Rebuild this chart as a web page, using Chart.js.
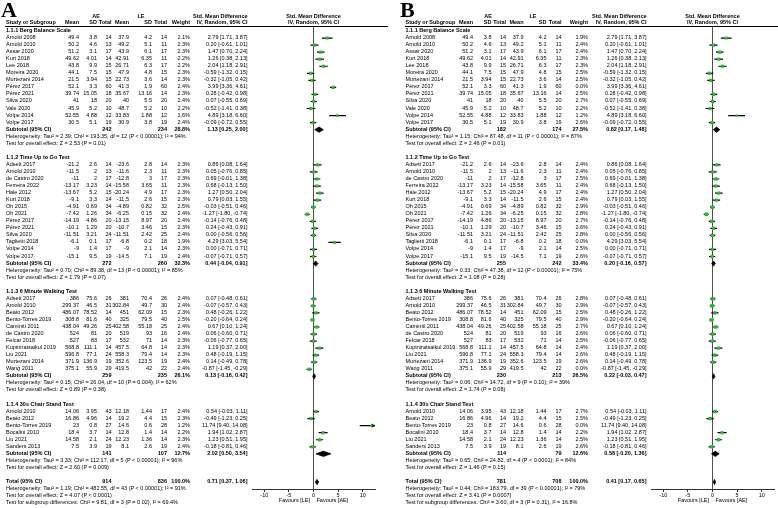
<!DOCTYPE html>
<html>
<head>
<meta charset="utf-8">
<script src="https://cdn.jsdelivr.net/npm/chart.js@4.4.1/dist/chart.umd.min.js"></script>
<style>
  html, body { margin: 0; padding: 0; background: #fff; }
  body { width: 778px; height: 508px; position: relative; overflow: hidden;
         font-family: "Liberation Sans", Arial, sans-serif; color: #000; }
  .panel { position: absolute; top: 0; width: 388px; height: 508px; }
  .panel canvas { position: absolute; left: 0; top: 0; }
  .t { position: absolute; font-size: 5.5px; line-height: 1; white-space: nowrap; }
  .b { font-weight: bold; }
  .letter { position: absolute; left: 1px; top: -1.5px; font: bold 22px "Liberation Serif", serif; line-height: 1; }
  .rule { position: absolute; top: 26px; left: 5px; height: 1px; background: #000; }
</style>
</head>
<body>
<script>
const groupTitles = ["1.1.1 Berg Balance Scale", "1.1.2 Time Up to Go Test", "1.1.3 6 Minute Walking Test", "1.1.4 30s Chair Stand Test"];

const studyNames = [
  ["Arnold 2008", "Arnold 2010", "Assar 2020", "Kurt 2018", "Lee 2018", "Moreira 2020", "Murtezani 2014", "Pérez 2017", "Pérez 2021", "Silva 2020", "Vale 2020", "Volpe 2014", "Volpe 2017"],
  ["Adsett 2017", "Arnold 2010", "de Castro 2020", "Ferreira 2022", "Hale 2012", "Kurt 2018", "Oh 2015", "Oh 2021", "Pérez 2017", "Pérez 2021", "Silva 2020", "Taglietti 2018", "Volpe 2014", "Volpe 2017"],
  ["Adsett 2017", "Arnold 2010", "Beato 2012", "Bento-Torres 2019", "Caminiti 2011", "de Castro 2020", "Felcar 2018", "Kuptniratsaikul 2019", "Liu 2021", "Murtezani 2014", "Wang 2011"],
  ["Arnold 2010", "Beato 2012", "Bento-Torres 2019", "Bocalini 2010", "Liu 2021", "Sanders 2013"]
];

const aeMean = [
  [49.4, 50.2, 51.2, 49.62, 43.8, 44.1, 21.5, 52.1, 39.74, 41, 45.9, 52.55, 30.5],
  [-21.2, -11.5, -11, -13.17, -13.67, -9.1, -4.91, -7.42, -14.19, -10.1, -11.51, -6.1, -9, -15.1],
  [386, 299.37, 486.07, 308.8, 438.04, 524, 527, 568.8, 596.8, 371.9, 375.1],
  [14.06, 16.86, 23, 18.4, 14.58, 7.5]
];
const aeSd = [
  [3.8, 4.6, 3.1, 4.01, 9.9, 7.5, 3.94, 3.3, 15.05, 18, 5.2, 4.88, 5.1],
  [2.6, 2, 2, 3.23, 5.2, 3.3, 0.69, 1.26, 4.86, 1.29, 3.21, 0.1, 1.4, 9.5],
  [75.6, 46.5, 78.52, 81.6, 49.26, 81, 83, 111.1, 77.1, 136.9, 55.9],
  [3.95, 4.96, 0.8, 3.7, 2.1, 3.9]
];
const aeN = [
  [14, 13, 17, 14, 15, 15, 15, 60, 18, 20, 10, 12, 19],
  [14, 13, 17, 14, 15, 14, 34, 34, 20, 20, 24, 17, 17, 19],
  [26, 31, 14, 40, 25, 20, 17, 14, 24, 19, 29],
  [43, 14, 27, 14, 24, 19]
];
const leMean = [
  [37.9, 49.2, 43.9, 42.91, 26.71, 47.9, 22.73, 41.3, 35.67, 40, 48.7, 33.83, 30.9],
  [-23.6, -11.6, -12.8, -15.58, -20.24, -11.5, -4.89, -6.25, -13.15, -10.7, -11.51, -6.8, -9, -14.5],
  [381, 302.84, 451, 325, 402.58, 519, 532, 457.5, 558.3, 352.6, 419.5],
  [12.18, 19.2, 14.6, 12.8, 12.23, 8.1]
];
const leSd = [
  [4.2, 5.1, 6.1, 6.35, 6.3, 4.8, 3.6, 1.9, 13.16, 5.5, 5.2, 1.88, 3.8],
  [2.8, 2.3, 3, 3.65, 4.9, 2.6, 0.82, 0.15, 8.97, 3.46, 2.42, 0.2, 2.1, 7.1],
  [70.4, 49.7, 62.09, 79.5, 55.18, 93, 71, 64.8, 79.4, 123.5, 42],
  [1.44, 4.4, 0.6, 1.4, 1.36, 2.6]
];
const leN = [
  [14, 11, 17, 11, 17, 15, 14, 60, 14, 20, 10, 12, 19],
  [14, 11, 17, 11, 17, 15, 32, 32, 20, 15, 25, 18, 14, 19],
  [26, 30, 15, 40, 25, 16, 14, 14, 14, 19, 22],
  [17, 15, 28, 14, 14, 19]
];

const smd = [
  [2.79, 0.20, 1.47, 1.26, 2.04, -0.59, -0.32, 3.99, 0.28, 0.07, -0.52, 4.89, -0.09],
  [0.86, 0.05, 0.69, 0.68, 1.27, 0.79, -0.03, -1.27, -0.14, 0.24, 0.00, 4.29, 0.00, -0.07],
  [0.07, -0.07, 0.48, -0.20, 0.67, 0.06, -0.06, 1.19, 0.48, 0.14, -0.87],
  [0.54, -0.49, 11.74, 1.94, 1.23, -0.18]
];
const ciLow = [
  [1.71, -0.61, 0.70, 0.38, 1.18, -1.32, -1.05, 3.36, -0.42, -0.55, -1.41, 3.18, -0.72],
  [0.08, -0.76, -0.01, -0.13, 0.50, 0.03, -0.51, -1.80, -0.76, -0.43, -0.56, 3.03, -0.71, -0.71],
  [-0.48, -0.57, -0.26, -0.64, 0.10, -0.60, -0.77, 0.37, -0.19, -0.49, -1.45],
  [-0.03, -1.23, 9.40, 1.02, 0.51, -0.81]
];
const ciHigh = [
  [3.87, 1.01, 2.24, 2.13, 2.91, 0.15, 0.42, 4.61, 0.98, 0.69, 0.38, 6.60, 0.55],
  [1.64, 0.85, 1.38, 1.50, 2.04, 1.55, 0.46, -0.74, 0.48, 0.91, 0.56, 5.54, 0.71, 0.57],
  [0.61, 0.43, 1.22, 0.24, 1.24, 0.71, 0.65, 2.00, 1.15, 0.78, -0.29],
  [1.11, 0.25, 14.08, 2.87, 1.95, 0.46]
];

// study weights (%) in each analysis; 0.0 = study left out in B
const weightA = [
  [2.1, 2.3, 2.3, 2.2, 2.2, 2.3, 2.3, 2.4, 2.3, 2.4, 2.2, 1.6, 2.4],
  [2.3, 2.3, 2.3, 2.3, 2.3, 2.3, 2.5, 2.4, 2.4, 2.3, 2.4, 1.9, 2.3, 2.4],
  [2.4, 2.4, 2.3, 2.5, 2.4, 2.4, 2.3, 2.3, 2.3, 2.4, 2.4],
  [2.4, 2.3, 1.2, 2.2, 2.3, 2.4]
];
const weightB = [
  [1.9, 2.4, 2.4, 2.3, 2.3, 2.5, 2.5, 0.0, 2.5, 2.7, 2.2, 1.2, 2.6],
  [2.4, 2.4, 2.5, 2.4, 2.4, 2.4, 2.9, 2.8, 2.7, 2.6, 2.8, 0.0, 2.5, 2.6],
  [2.8, 2.9, 2.5, 2.9, 2.7, 2.6, 2.5, 2.4, 2.6, 2.6, 0.0],
  [2.7, 2.5, 0.0, 2.2, 2.5, 2.6]
];

// [AE total, LE total, weight, SMD, lower, upper]
const subtotalA = [[242, 234, 28.8, 1.13, 0.25, 2.00], [272, 260, 32.3, 0.44, -0.04, 0.91], [259, 235, 26.1, 0.13, -0.16, 0.42], [141, 107, 12.7, 2.02, 0.50, 3.54]];
const subtotalB = [[182, 174, 27.5, 0.82, 0.17, 1.48], [255, 242, 33.4, 0.20, -0.16, 0.57], [230, 213, 26.5, 0.22, -0.03, 0.47], [114, 79, 12.6, 0.58, -0.20, 1.36]];
const totalA = [914, 836, 100.0, 0.71, 0.37, 1.06];
const totalB = [781, 708, 100.0, 0.41, 0.17, 0.65];

const hetA = [
  "Heterogeneity: Tau² = 2.39; Chi² = 193.35, df = 12 (P < 0.00001); I² = 94%",
  "Heterogeneity: Tau² = 0.70; Chi² = 89.38, df = 13 (P < 0.00001); I² = 85%",
  "Heterogeneity: Tau² = 0.15; Chi² = 26.04, df = 10 (P = 0.004); I² = 62%",
  "Heterogeneity: Tau² = 3.33; Chi² = 112.17, df = 5 (P < 0.00001); I² = 96%"
];
const testA = [
  "Test for overall effect: Z = 2.53 (P = 0.01)",
  "Test for overall effect: Z = 1.79 (P = 0.07)",
  "Test for overall effect: Z = 0.89 (P = 0.38)",
  "Test for overall effect: Z = 2.60 (P = 0.009)"
];
const totalNotesA = [
  "Heterogeneity: Tau² = 1.19; Chi² = 482.55, df = 43 (P < 0.00001); I² = 91%",
  "Test for overall effect: Z = 4.07 (P < 0.0001)",
  "Test for subgroup differences: Chi² = 9.81, df = 3 (P = 0.02), I² = 69.4%"
];
const hetB = [
  "Heterogeneity: Tau² = 1.15; Chi² = 87.48, df = 11 (P < 0.00001); I² = 87%",
  "Heterogeneity: Tau² = 0.33; Chi² = 47.38, df = 12 (P < 0.00001); I² = 75%",
  "Heterogeneity: Tau² = 0.06; Chi² = 14.72, df = 9 (P = 0.10); I² = 39%",
  "Heterogeneity: Tau² = 0.65; Chi² = 24.82, df = 4 (P < 0.0001); I² = 84%"
];
const testB = [
  "Test for overall effect: Z = 2.46 (P = 0.01)",
  "Test for overall effect: Z = 1.08 (P = 0.28)",
  "Test for overall effect: Z = 1.74 (P = 0.08)",
  "Test for overall effect: Z = 1.46 (P = 0.15)"
];
const totalNotesB = [
  "Heterogeneity: Tau² = 0.44; Chi² = 183.79, df = 39 (P < 0.00001); I² = 79%",
  "Test for overall effect: Z = 3.41 (P = 0.0007)",
  "Test for subgroup differences: Chi² = 3.60, df = 3 (P = 0.31), I² = 16.8%"
];

const xTicks = [-10, -5, 0, 5, 10];
const X_MIN = -12.5, X_MAX = 12.5;
const DH = 0.37; // diamond half height, in rows

// table layout per panel: text left edge, AE/LE header centres,
// right edges of AE mean, SD, total, LE mean, SD, total, weight, CI
const layoutA = { left: 6, heads: [96, 141], cols: [79, 97, 111.5, 129, 152, 167, 190, 247.5] };
const layoutB = { left: 6.5, heads: [89, 134], cols: [74, 92.5, 107, 124.5, 147.5, 162.5, 189, 247.5] };

const f2 = v => v.toFixed(2);
const ciText = (e, l, h) => `${f2(e)} [${f2(l)}, ${f2(h)}]`;

function put(panel, text, x, y, align, bold) {
  const d = document.createElement("div");
  d.className = bold ? "t b" : "t";
  d.textContent = text;
  d.style.left = x + "px";
  d.style.top = y + "px";
  const tx = align === "right" ? "-100%" : align === "center" ? "-50%" : "0";
  d.style.transform = `translate(${tx}, -50%)`;
  panel.appendChild(d);
}

function diamond(s, r) {
  const est = s[3], lo = s[4], hi = s[5];
  return {
    data: [{ x: lo, y: r }, { x: est, y: r - DH }, { x: hi, y: r }, { x: est, y: r + DH }, { x: lo, y: r }],
    showLine: true, fill: "shape", borderColor: "#000", backgroundColor: "#000",
    borderWidth: 0.8, pointRadius: 0, order: 0
  };
}

function buildPanel(left, letter, ruleWidth, lay, weights, subtotals, total, hets, tests, notes) {
  const panel = document.createElement("div");
  panel.className = "panel";
  panel.style.left = left + "px";
  document.body.appendChild(panel);
  const canvas = document.createElement("canvas");
  canvas.width = 388;
  canvas.height = 508;
  panel.appendChild(canvas);

  // one row per line of the table
  const rows = [];
  let r = 0;
  groupTitles.forEach((title, g) => {
    rows.push({ type: "group", g, r: r++ });
    studyNames[g].forEach((n, i) => rows.push({ type: "study", g, i, r: r++ }));
    rows.push({ type: "sub", g, r: r++ });
    rows.push({ type: "het", g, r: r++ });
    rows.push({ type: "test", g, r: r++ });
    r++;
  });
  const totalRow = r;

  const ciPts = [], squares = [], arrows = [];
  rows.filter(o => o.type === "study").forEach(o => {
    const w = weights[o.g][o.i];
    if (w === 0) return;
    ciPts.push({ x: ciLow[o.g][o.i], y: o.r }, { x: ciHigh[o.g][o.i], y: o.r }, { x: null, y: null });
    squares.push({ x: smd[o.g][o.i], y: o.r, w });
    if (ciHigh[o.g][o.i] > X_MAX) arrows.push({ x: X_MAX - 0.45, y: o.r });
  });
  const diamonds = rows.filter(o => o.type === "sub").map(o => diamond(subtotals[o.g], o.r));
  diamonds.push(diamond(total, totalRow));

  const chart = new Chart(canvas, {
    type: "scatter",
    data: {
      datasets: [
        { data: ciPts, showLine: true, borderColor: "#000", borderWidth: 1.2, pointRadius: 0, order: 3 },
        { data: squares, pointStyle: "rect", pointRadius: c => 2.1 * Math.sqrt(c.raw.w) / Math.SQRT2,
          pointBackgroundColor: "#30b530", pointBorderWidth: 0, order: 1 },
        { data: arrows, pointStyle: "triangle", pointRotation: 90, pointRadius: 2.4,
          pointBackgroundColor: "#000", pointBorderWidth: 0, clip: false, order: 2 },
        ...diamonds
      ]
    },
    options: {
      responsive: false,
      animation: false,
      events: [],
      layout: { padding: { left: 252, right: 13, top: 26, bottom: 0 } },
      plugins: { legend: { display: false }, tooltip: { enabled: false } },
      scales: {
        x: {
          type: "linear", min: X_MIN, max: X_MAX,
          afterBuildTicks: s => { s.ticks = xTicks.map(v => ({ value: v })); },
          afterFit: s => { s.height = 19; },
          ticks: { font: { family: "Liberation Sans", size: 5.5 }, color: "#000", padding: 0, maxRotation: 0, autoSkip: false },
          grid: { color: c => (c.tick && c.tick.value === 0 ? "#4d4d4d" : "rgba(0,0,0,0)"), tickColor: "#333", tickLength: 3, lineWidth: 1 },
          border: { display: true, color: "#333", width: 1 }
        },
        y: { type: "linear", reverse: true, min: -0.71, max: totalRow + 0.99, display: false }
      }
    }
  });

  const ys = v => chart.scales.y.getPixelForValue(v);
  const x0 = chart.scales.x.getPixelForValue(0);
  const L = lay.left, C = lay.cols;

  const let_ = document.createElement("div");
  let_.className = "letter";
  let_.textContent = letter;
  panel.appendChild(let_);
  const rule = document.createElement("div");
  rule.className = "rule";
  rule.style.left = (L - 1) + "px";
  rule.style.width = ruleWidth + "px";
  panel.appendChild(rule);

  // header
  put(panel, "AE", lay.heads[0], 17, "center", true);
  put(panel, "LE", lay.heads[1], 17, "center", true);
  put(panel, "Std. Mean Difference", C[7], 17, "right", true);
  put(panel, "Std. Mean Difference", x0, 17, "center", true);
  put(panel, "Study or Subgroup", L, 23, "left", true);
  ["Mean", "SD", "Total", "Mean", "SD", "Total", "Weight", "IV, Random, 95% CI"].forEach((h, k) => put(panel, h, C[k], 23, "right", true));
  put(panel, "IV, Random, 95% CI", x0, 23, "center", true);

  rows.forEach(o => {
    const y = ys(o.r);
    if (o.type === "group") put(panel, groupTitles[o.g], L, y, "left", true);
    if (o.type === "study") {
      const g = o.g, i = o.i;
      put(panel, studyNames[g][i], L, y, "left", false);
      [aeMean[g][i], aeSd[g][i], aeN[g][i], leMean[g][i], leSd[g][i], leN[g][i]].forEach((v, k) => put(panel, String(v), C[k], y, "right", false));
      put(panel, weights[g][i].toFixed(1) + "%", C[6], y, "right", false);
      put(panel, ciText(smd[g][i], ciLow[g][i], ciHigh[g][i]), C[7], y, "right", false);
    }
    if (o.type === "sub") {
      const s = subtotals[o.g];
      put(panel, "Subtotal (95% CI)", L, y, "left", true);
      put(panel, String(s[0]), C[2], y, "right", true);
      put(panel, String(s[1]), C[5], y, "right", true);
      put(panel, s[2].toFixed(1) + "%", C[6], y, "right", true);
      put(panel, ciText(s[3], s[4], s[5]), C[7], y, "right", true);
    }
    if (o.type === "het") put(panel, hets[o.g], L, y, "left", false);
    if (o.type === "test") put(panel, tests[o.g], L, y, "left", false);
  });

  const ty = ys(totalRow);
  put(panel, "Total (95% CI)", L, ty, "left", true);
  put(panel, String(total[0]), C[2], ty, "right", true);
  put(panel, String(total[1]), C[5], ty, "right", true);
  put(panel, total[2].toFixed(1) + "%", C[6], ty, "right", true);
  put(panel, ciText(total[3], total[4], total[5]), C[7], ty, "right", true);
  notes.forEach((n, k) => put(panel, n, L, ys(totalRow + 1 + k), "left", false));

  put(panel, "Favours [LE]", x0 - 3.5, 501, "right", false);
  put(panel, "Favours [AE]", x0 + 3, 501, "left", false);
}

buildPanel(0, "A", 383, layoutA, weightA, subtotalA, totalA, hetA, testA, totalNotesA);
buildPanel(399, "B", 374, layoutB, weightB, subtotalB, totalB, hetB, testB, totalNotesB);
</script>
</body>
</html>
